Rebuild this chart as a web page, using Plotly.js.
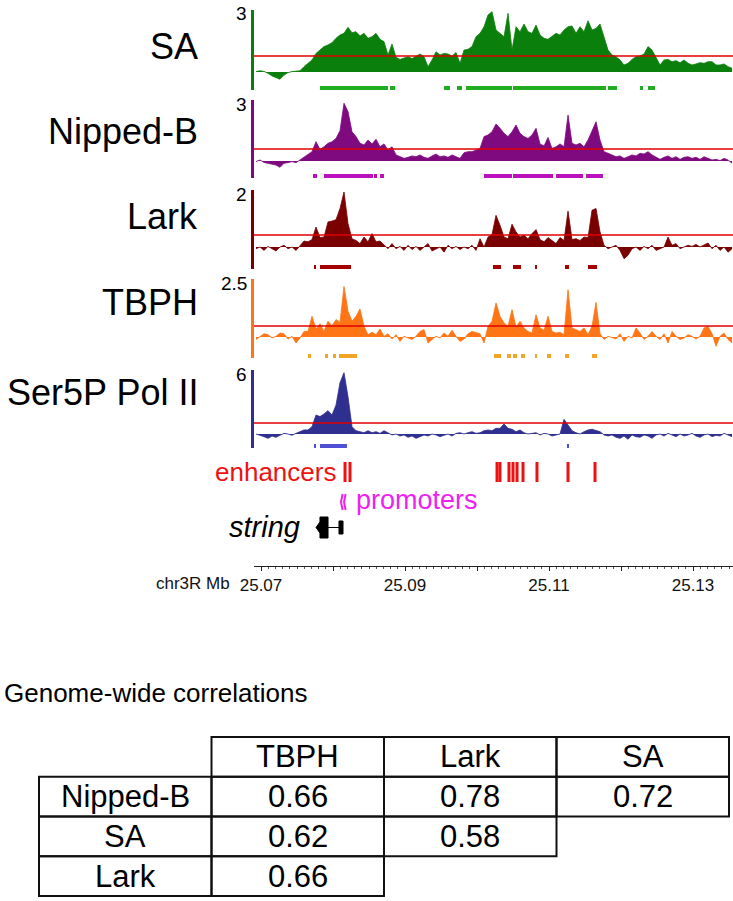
<!DOCTYPE html>
<html><head><meta charset="utf-8">
<script src="https://cdn.plot.ly/plotly-3.0.1.min.js"></script>
<style>html,body{margin:0;padding:0;background:#fff;} #chart{width:733px;height:901px;}</style>
</head><body><div id="chart"></div>
<script>
// ---------------- DATA ----------------
const trackNames = ['SA', 'Nipped-B', 'Lark', 'TBPH', 'Ser5P Pol II'];
const trackScaleMax = [3, 3, 2, 2.5, 6];
const trackScaleLabels = ['3', '3', '2', '2.5', '6'];
const trackThresholds = [0.77, 0.59, 0.42, 0.47, 1.03];

// signal bins (Mb)
const binStartMb = 25.069306;
const binStepMb = 0.0005556;

const saSignal = [0.02,0.06,0.03,-0.06,-0.19,-0.26,-0.35,-0.15,-0.03,0.02,
 0.03,0.06,0.26,0.42,0.58,0.90,1.06,1.23,1.31,1.42,
 1.63,1.79,1.87,2.16,1.90,1.95,1.74,1.87,1.63,1.71,
 1.87,1.58,1.47,0.82,1.35,0.71,0.61,0.66,0.74,0.65,
 0.77,0.87,0.74,0.26,0.58,0.98,0.82,0.90,0.87,0.77,
 0.94,0.42,1.06,1.10,1.23,1.71,1.87,2.19,2.76,2.92,
 2.03,1.87,1.71,2.84,1.06,2.19,1.95,2.32,1.95,1.87,
 2.27,1.79,1.63,1.58,1.71,1.87,1.79,2.03,2.19,2.23,
 1.87,2.19,1.95,2.48,2.03,2.11,2.32,1.71,1.06,0.82,
 0.74,0.58,0.34,0.42,0.61,0.74,0.77,0.87,1.23,1.06,
 0.71,0.34,0.58,0.61,0.50,0.55,0.45,0.58,0.42,0.34,
 0.39,0.45,0.42,0.50,0.50,0.34,0.34,0.39,0.26,0.18];

const nippedBSignal = [-0.03,0.05,-0.07,-0.11,-0.15,-0.20,-0.31,-0.11,-0.08,-0.03,
 -0.08,0.05,0.21,0.34,0.46,0.95,0.57,0.70,0.87,0.95,
 1.11,1.49,2.84,2.43,1.44,1.20,0.87,0.79,1.03,0.84,
 1.07,0.70,0.84,0.54,0.70,0.30,0.21,0.13,0.18,0.25,
 0.21,0.30,0.18,0.13,0.25,0.34,0.21,0.25,0.18,0.30,
 0.21,0.13,0.41,0.46,0.46,0.54,0.62,1.20,1.28,1.44,
 1.82,1.61,1.36,1.20,1.44,1.77,1.36,1.20,1.11,1.28,
 1.61,0.84,0.74,1.16,0.62,0.70,0.84,0.70,2.26,0.87,
 0.79,0.87,0.70,1.03,1.44,1.93,1.03,0.46,0.38,0.30,
 0.21,0.25,0.13,0.21,0.30,0.25,0.38,0.34,0.46,0.30,
 0.21,0.08,0.18,0.25,0.13,0.21,0.08,0.18,0.21,0.13,
 0.18,0.08,0.21,0.13,0.05,0.08,0.02,0.13,0.05,-0.11];

const larkSignal = [-0.06,0,-0.12,0.02,-0.06,-0.14,0,0.06,-0.06,0,
 -0.12,0.06,0.21,0.18,0.26,0.70,0.33,0.35,0.88,0.91,
 0.96,1.35,1.93,0.82,0.29,0.23,0.12,0.35,0.18,0.47,
 0.18,0.21,0.06,-0.06,0.12,-0.06,0.02,-0.12,0.06,-0.09,
 0.02,-0.12,0,0.12,-0.14,-0.06,0,-0.18,0.06,-0.06,
 0.02,-0.09,0,-0.06,0.06,-0.12,0.29,0,0.35,0.44,
 1.11,0.76,0.35,0.29,0.80,0.53,0.35,0.41,0.29,0.47,
 0.61,0.26,0.18,0.33,0.23,0.12,0.33,0.23,1.26,0.26,
 0.29,0.23,0.35,0.33,1.29,1.35,0.53,0.06,-0.06,0,
 0.06,-0.12,-0.41,-0.29,-0.06,0,-0.12,0.02,-0.06,0.06,
 -0.12,-0.06,0,0.35,0.06,0.12,-0.06,0,0.06,0.02,
 0.09,0,0.06,0.14,-0.06,0.06,-0.12,0,-0.18,-0.06];

const tbphSignal = [-0.11,0.03,0.14,0.10,-0.04,0.03,0.17,0.14,-0.09,0.03,
 -0.26,-0.04,0.24,0.24,0.89,0.34,0.57,0.24,0.68,0.49,
 0.75,0.63,2.18,1.11,0.68,0.89,1.21,0.46,0.10,0.20,
 0.10,0.34,0.03,0.14,-0.09,0.10,-0.19,0.03,-0.04,-0.11,
 0.03,0.24,0.32,-0.26,-0.11,0.03,-0.04,0.17,0.03,0.29,
 0.03,-0.19,-0.09,0.14,0.24,0.20,0.14,-0.26,0.46,0.68,
 1.47,0.89,0.60,0.46,1.18,0.43,0.68,0.39,0.24,0.17,
 0.96,0.39,0.29,0.89,0.24,0.17,0.20,0.10,2.04,0.39,
 0.32,0.24,0.39,0.10,0.46,1.49,0.14,-0.11,0.03,-0.04,
 -0.09,0.14,-0.19,0.03,-0.04,0.39,0.17,-0.11,0.03,0.24,
 0.03,-0.11,0.14,-0.26,0.24,0.03,-0.11,-0.04,0.10,0.03,
 -0.09,0.03,0.39,0.46,0.14,-0.40,0.03,0.17,-0.11,-0.26];

const ser5pSignal = [0,-0.09,-0.25,-0.41,-0.19,-0.31,-0.09,0.06,0,-0.12,
 0.06,0.22,0.38,0.38,0.69,1.78,1.63,1.88,2.19,1.78,
 2.72,4.81,5.75,3.5,0.69,0.31,0.22,0.12,0.31,0.12,
 0.22,0.06,0.31,0.12,-0.09,0,-0.19,-0.09,-0.31,-0.19,
 -0.41,-0.25,-0.09,-0.19,0,-0.09,-0.25,-0.12,0,-0.19,
 0.06,0.12,0,0.12,0.22,0.06,0.12,0.31,0.38,0.31,
 0.53,0.53,0.94,0.53,0.44,0.22,0.38,0.12,0,0.06,
 0.12,-0.09,0.06,0,-0.19,-0.09,0,1.38,0.84,0.31,
 0.12,0,0.22,0.38,0.44,0.31,0.22,-0.09,-0.19,-0.09,
 -0.31,-0.41,-0.19,-0.5,-0.09,-0.25,-0.31,-0.09,-0.19,-0.41,
 -0.09,0,-0.19,0.06,-0.12,-0.25,0,-0.19,-0.09,0.06,
 -0.19,-0.31,-0.09,0,-0.25,-0.12,-0.19,0.06,-0.09,-0.25];

// enriched-region segments (start, end in Mb)
const saSegStarts = [25.07819,25.08792,25.09542,25.09722,25.09847,25.10500,25.11819,25.12264,25.12375];
const saSegEnds   = [25.08764,25.08861,25.09625,25.09792,25.10486,25.11792,25.11944,25.12306,25.12472];
const nbSegStarts = [25.07722,25.07875,25.08569,25.08653,25.10097,25.10500,25.11097,25.11514];
const nbSegEnds   = [25.07778,25.08556,25.08611,25.08708,25.10486,25.11056,25.11472,25.11750];
const larkSegStarts = [25.07736,25.07819,25.10222,25.10500,25.10806,25.11222,25.11542];
const larkSegEnds   = [25.07764,25.08250,25.10333,25.10611,25.10833,25.11278,25.11667];
const tbphSegStarts = [25.07653,25.07889,25.08000,25.08083,25.10236,25.10417,25.10500,25.10611,25.10806,25.10972,25.11222,25.11597];
const tbphSegEnds   = [25.07694,25.07931,25.08042,25.08333,25.10333,25.10472,25.10556,25.10667,25.10833,25.11028,25.11278,25.11667];
const serSegStarts = [25.07736,25.07819,25.11250];
const serSegEnds   = [25.07764,25.08194,25.11278];

// annotation features (Mb)
const enhancerPositions = [25.08167,25.08236,25.10278,25.10319,25.10444,25.10500,25.10556,25.10639,25.10833,25.11264,25.11639];
const promoterPositions = [25.08111,25.08153];
const geneName = 'string';
const geneTxStart = 25.07764;
const geneExonStarts = [25.07819,25.08083];
const geneExonEnds   = [25.07931,25.08139];

// genomic axis
const axisTickValues = [25.07,25.08,25.09,25.10,25.11,25.12,25.13];
const axisTickText = ['25.07','','25.09','','25.11','','25.13'];
const axisLabel = 'chr3R Mb';

// correlation table
const tableTitle = 'Genome-wide correlations';
const tableColumns = ['TBPH','Lark','SA'];
const tableRows = ['Nipped-B','SA','Lark'];
const correlations = [[0.66,0.78,0.72],[0.62,0.58,null],[0.66,null,null]];

// ---------------- LAYOUT / STYLE ----------------
const W = 733, H = 901;
const FONT = 'Liberation Sans, Arial, Helvetica, sans-serif';
const P = px => 1 - px / H;            // pixel y -> paper
const PX = px => px / W;               // pixel x -> paper
const mbAt = px => 25.07 + (px - 261) / 7200;

const trackGeom = [ // top, zero, bottom (px)
  [10, 72, 90], [100, 161, 178], [190, 247, 269], [279, 337, 358], [370, 434, 448]];
const trackColors = ['#0b7f0b', '#7f0a80', '#7a0000', '#ff7414', '#2f2f8f'];
const segColors = ['#22ac22', '#bb10bb', '#a50000', '#f3a326', '#5050d6'];
const labelCenters = [46, 131, 216, 302, 393];
const signals = [saSignal, nippedBSignal, larkSignal, tbphSignal, ser5pSignal];
const segStarts = [saSegStarts, nbSegStarts, larkSegStarts, tbphSegStarts, serSegStarts];
const segEnds = [saSegEnds, nbSegEnds, larkSegEnds, tbphSegEnds, serSegEnds];

const binsMb = saSignal.map((_, i) => binStartMb + i * binStepMb);

const traces = [];
const layout = {
  width: W, height: H, margin: {l: 0, r: 0, t: 0, b: 0},
  paper_bgcolor: '#fff', plot_bgcolor: 'rgba(0,0,0,0)',
  showlegend: false, font: {family: FONT, color: '#000'},
  shapes: [], annotations: [],
  xaxis: {
    domain: [PX(254), 1], range: [mbAt(254), mbAt(733)],
    anchor: 'free', position: P(566),
    showline: true, linecolor: '#222', linewidth: 1, mirror: false,
    ticks: 'outside', ticklen: 4, tickcolor: '#222', tickwidth: 1,
    tickmode: 'array', tickvals: axisTickValues, ticktext: axisTickText,
    tickfont: {size: 17, color: '#111', family: FONT},
    minor: {tickmode: 'linear', tick0: 25.07, dtick: 0.001, ticks: 'outside', ticklen: 2, tickcolor: '#555'},
    showgrid: false, zeroline: false, fixedrange: true
  }
};

trackNames.forEach((name, t) => {
  const [top, zero, bot] = trackGeom[t];
  const hi = trackScaleMax[t];
  const upp = hi / (zero - top);
  const lo = -(bot - zero) * upp;
  const yName = t === 0 ? 'y' : 'y' + (t + 1);
  const yKey = t === 0 ? 'yaxis' : 'yaxis' + (t + 1);
  layout[yKey] = {
    domain: [P(bot), P(top)], range: [lo, hi], anchor: 'x',
    showline: true, linecolor: trackColors[t], linewidth: 3,
    showticklabels: false, ticks: '', showgrid: false, zeroline: false, fixedrange: true
  };
  traces.push({
    type: 'scatter', mode: 'lines', x: binsMb, y: signals[t], xaxis: 'x', yaxis: yName,
    fill: 'tozeroy', fillcolor: trackColors[t],
    line: {color: trackColors[t], width: 0.8}, hoverinfo: 'skip'
  });
  // segments
  const segLevel = lo + 2 * upp;
  const sx = [], sy = [];
  segStarts[t].forEach((s, k) => { sx.push(s, segEnds[t][k], null); sy.push(segLevel, segLevel, null); });
  traces.push({
    type: 'scatter', mode: 'lines', x: sx, y: sy, xaxis: 'x', yaxis: yName,
    line: {color: segColors[t], width: 4}, hoverinfo: 'skip'
  });
  // threshold
  layout.shapes.push({
    type: 'line', xref: 'x domain', x0: 0, x1: 1, yref: yName, y0: trackThresholds[t], y1: trackThresholds[t],
    line: {color: '#e00000', width: 1.5}, layer: 'above'
  });
  // labels
  layout.annotations.push({
    xref: 'paper', yref: 'paper', x: PX(200), y: P(labelCenters[t]), xanchor: 'right', yanchor: 'middle',
    text: name, showarrow: false, font: {size: 36, color: '#000', family: FONT}
  });
  layout.annotations.push({
    xref: 'paper', yref: 'paper', x: PX(249), y: P(top + 4), xanchor: 'right', yanchor: 'middle',
    text: trackScaleLabels[t], showarrow: false, font: {size: 19, color: '#000', family: FONT}
  });
});

// feature axis (y6), values in pixel rows
layout.yaxis6 = {domain: [P(545), P(455)], range: [545, 455], anchor: 'x', visible: false, fixedrange: true};
{
  const ex = [], ey = [];
  enhancerPositions.forEach(p => { ex.push(p, p, null); ey.push(462, 482, null); });
  traces.push({type: 'scatter', mode: 'lines', x: ex, y: ey, xaxis: 'x', yaxis: 'y6',
    line: {color: '#ee1111', width: 3}, hoverinfo: 'skip'});
  const px_ = [], py_ = [];
  promoterPositions.forEach(p => { px_.push(p + 0.00022, p, p + 0.00022, null); py_.push(494, 502, 510, null); });
  traces.push({type: 'scatter', mode: 'lines', x: px_, y: py_, xaxis: 'x', yaxis: 'y6',
    line: {color: '#ee22ee', width: 2}, hoverinfo: 'skip'});
  // gene: intron line
  traces.push({type: 'scatter', mode: 'lines', x: [geneExonEnds[0], geneExonStarts[1]], y: [527.5, 527.5],
    xaxis: 'x', yaxis: 'y6', line: {color: '#000', width: 1}, hoverinfo: 'skip'});
  // first exon with arrow tip (minus strand)
  const s0 = geneExonStarts[0], e0 = geneExonEnds[0];
  traces.push({type: 'scatter', mode: 'lines', fill: 'toself', fillcolor: '#000',
    x: [geneTxStart, s0, s0, e0, e0, s0, s0, geneTxStart],
    y: [527.5, 522, 517, 517, 538, 538, 533, 527.5],
    xaxis: 'x', yaxis: 'y6', line: {color: '#000', width: 1}, hoverinfo: 'skip'});
  const s1 = geneExonStarts[1], e1 = geneExonEnds[1];
  traces.push({type: 'scatter', mode: 'lines', fill: 'toself', fillcolor: '#000',
    x: [s1, e1, e1, s1, s1], y: [521, 521, 534, 534, 521],
    xaxis: 'x', yaxis: 'y6', line: {color: '#000', width: 1}, hoverinfo: 'skip'});
}
layout.annotations.push(
  {xref: 'paper', yref: 'paper', x: PX(338), y: P(472), xanchor: 'right', yanchor: 'middle', showarrow: false,
   text: 'enhancers', font: {size: 26, color: '#ee1111', family: FONT}},
  {xref: 'paper', yref: 'paper', x: PX(354), y: P(500), xanchor: 'left', yanchor: 'middle', showarrow: false,
   text: 'promoters', font: {size: 27, color: '#ee22ee', family: FONT}},
  {xref: 'paper', yref: 'paper', x: PX(302), y: P(527), xanchor: 'right', yanchor: 'middle', showarrow: false,
   text: '<i>' + geneName + '</i>', font: {size: 29, color: '#000', family: FONT}},
  {xref: 'paper', yref: 'paper', x: PX(232), y: P(583), xanchor: 'right', yanchor: 'middle', showarrow: false,
   text: axisLabel, font: {size: 17, color: '#111', family: FONT}},
  {xref: 'paper', yref: 'paper', x: PX(2), y: P(693), xanchor: 'left', yanchor: 'middle', showarrow: false,
   text: tableTitle, font: {size: 26, color: '#000', family: FONT}}
);

// table axes
const tL = 39, tR = 729, tT = 737, tB = 896;
const cw = (tR - tL) / 4, rh = (tB - tT) / 4;
layout.xaxis2 = {domain: [PX(tL - 4), PX(tR + 3)], range: [-4 / cw, 4 + 3 / cw], anchor: 'y7', visible: false, fixedrange: true};
layout.yaxis7 = {domain: [P(tB + 3), P(tT - 3)], range: [4 + 3 / rh, -3 / rh], anchor: 'x2', visible: false, fixedrange: true};
traces.push({type: 'scatter', mode: 'markers', x: [0], y: [0], xaxis: 'x2', yaxis: 'y7', marker: {opacity: 0}, hoverinfo: 'skip'});
const cellShape = (c, r) => ({type: 'rect', xref: 'x2', yref: 'y7', x0: c, x1: c + 1, y0: r, y1: r + 1,
  line: {color: '#111', width: 2}, fillcolor: 'rgba(0,0,0,0)', layer: 'above'});
const cellText = (c, r, txt) => ({xref: 'x2', yref: 'y7', x: c + 0.5, y: r + 0.5, xanchor: 'center', yanchor: 'middle',
  showarrow: false, text: txt, font: {size: 31, color: '#000', family: FONT}});
tableColumns.forEach((col, c) => {
  layout.shapes.push(cellShape(c + 1, 0));
  layout.annotations.push(cellText(c + 1, 0, col));
});
tableRows.forEach((row, r) => {
  layout.shapes.push(cellShape(0, r + 1));
  layout.annotations.push(cellText(0, r + 1, row));
  correlations[r].forEach((v, c) => {
    if (v === null) return;
    layout.shapes.push(cellShape(c + 1, r + 1));
    layout.annotations.push(cellText(c + 1, r + 1, v.toFixed(2)));
  });
});

Plotly.newPlot('chart', traces, layout, {displayModeBar: false, staticPlot: true});
</script></body></html>
